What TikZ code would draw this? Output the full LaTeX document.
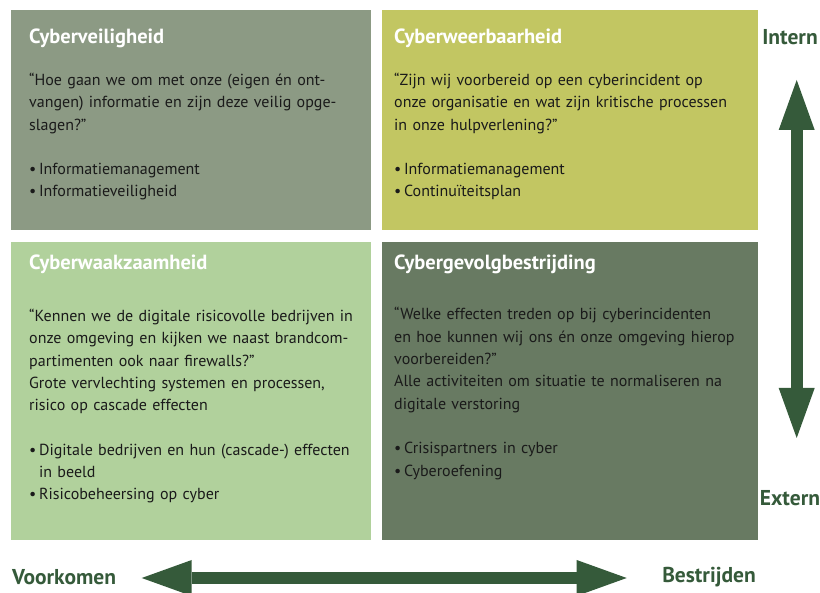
\documentclass[tikz,border=0pt]{standalone}
\usepackage{fontspec}
\setmainfont{PT Sans}
\usetikzlibrary{arrows.meta,positioning}
\definecolor{veiliggrey}{HTML}{8C9A84}
\definecolor{weerolive}{HTML}{C2C662}
\definecolor{waaklight}{HTML}{B1D19C}
\definecolor{gevolgdark}{HTML}{687A62}
\definecolor{axisgreen}{HTML}{355A3A}
\definecolor{bodyblack}{HTML}{1A1A1A}

\begin{document}
\begin{tikzpicture}[x=1pt,y=-1pt]
\tikzset{quadrant/.style={draw=none,inner sep=0pt,anchor=north west,minimum width=360pt},
         quadtitle/.style={anchor=base west,inner sep=0pt,text=white,font=\fontsize{20.5}{22}\selectfont\bfseries},
         quadbody/.style={anchor=base west,inner sep=0pt,text width=355pt,align=left,text=bodyblack,
                          font=\fontsize{16}{22.3}\selectfont},
         axislabel/.style={inner sep=0pt,text=axisgreen,font=\fontsize{21.5}{23}\selectfont\bfseries},
         axisarrow/.style={draw=axisgreen,line width=12pt,
                           {Triangle[length=50pt,width=36pt,line width=0pt]}-{Triangle[length=50pt,width=36pt,line width=0pt]}}}
\useasboundingbox (0,0) rectangle (820,593);

% de vier kwadranten
\node[quadrant,fill=veiliggrey,minimum height=219.5pt] (veilig) at (11,10) {};
\node[quadrant,fill=weerolive,minimum width=375.5pt,minimum height=219.5pt] (weerbaar) at (382,10) {};
\node[quadrant,fill=waaklight,minimum height=298pt] (waakzaam) at (11,241.5) {};
\node[quadrant,fill=gevolgdark,minimum width=375.5pt,minimum height=298pt] (gevolg) at (382,241.5) {};

\node[quadtitle] (veilig-title) at (29,43.3) {Cyberveiligheid};
\node[quadbody] (veilig-body) at (29,85.5) {“Hoe gaan we om met onze (eigen én ont-\\
  vangen) informatie en zijn deze veilig opge-\\
  slagen?”\\[22.3pt]
  •\,Informatiemanagement\\
  •\,Informatieveiligheid};

\node[quadtitle] (weerbaar-title) at (394,43.3) {Cyberweerbaarheid};
\node[quadbody] (weerbaar-body) at (394,85.5) {“Zijn wij voorbereid op een cyberincident op\\
  onze organisatie en wat zijn kritische processen\\
  in onze hulpverlening?”\\[22.3pt]
  •\,Informatiemanagement\\
  •\,Continuïteitsplan};

\node[quadtitle] (waakzaam-title) at (29,270) {Cyberwaakzaamheid};
\node[quadbody] (waakzaam-body) at (29,321.5) {“Kennen we de digitale risicovolle bedrijven in\\
  onze omgeving en kijken we naast brandcom-\\
  partimenten ook naar firewalls?”\\
  Grote vervlechting systemen en processen,\\
  risico op cascade effecten\\[22.3pt]
  •\,Digitale bedrijven en hun (cascade-) effecten\\
  \phantom{•\,}in beeld\\
  •\,Risicobeheersing op cyber};

\node[quadtitle] (gevolg-title) at (394,270) {Cybergevolgbestrijding};
\node[quadbody] (gevolg-body) at (394,320) {“Welke effecten treden op bij cyberincidenten\\
  en hoe kunnen wij ons én onze omgeving hierop\\
  voorbereiden?”\\
  Alle activiteiten om situatie te normaliseren na\\
  digitale verstoring\\[22.3pt]
  •\,Crisispartners in cyber\\
  •\,Cyberoefening};

% assen
\node[axislabel] (intern) at (790,37) {Intern};
\node[axislabel] (extern) at (790,498) {Extern};
\node[axislabel,anchor=west] (voorkomen) at (12,577) {Voorkomen};
\node[axislabel,anchor=east] (bestrijden) at (756,577) {Bestrijden};

\coordinate (intern-tip) at (796.7,80);
\coordinate (extern-tip) at (796.7,438);
\coordinate (voorkomen-tip) at (141.7,578);
\coordinate (bestrijden-tip) at (626.7,578);
\draw[axisarrow] (intern-tip) -- (extern-tip);
\draw[axisarrow] (voorkomen-tip) -- (bestrijden-tip);
\end{tikzpicture}
\end{document}
